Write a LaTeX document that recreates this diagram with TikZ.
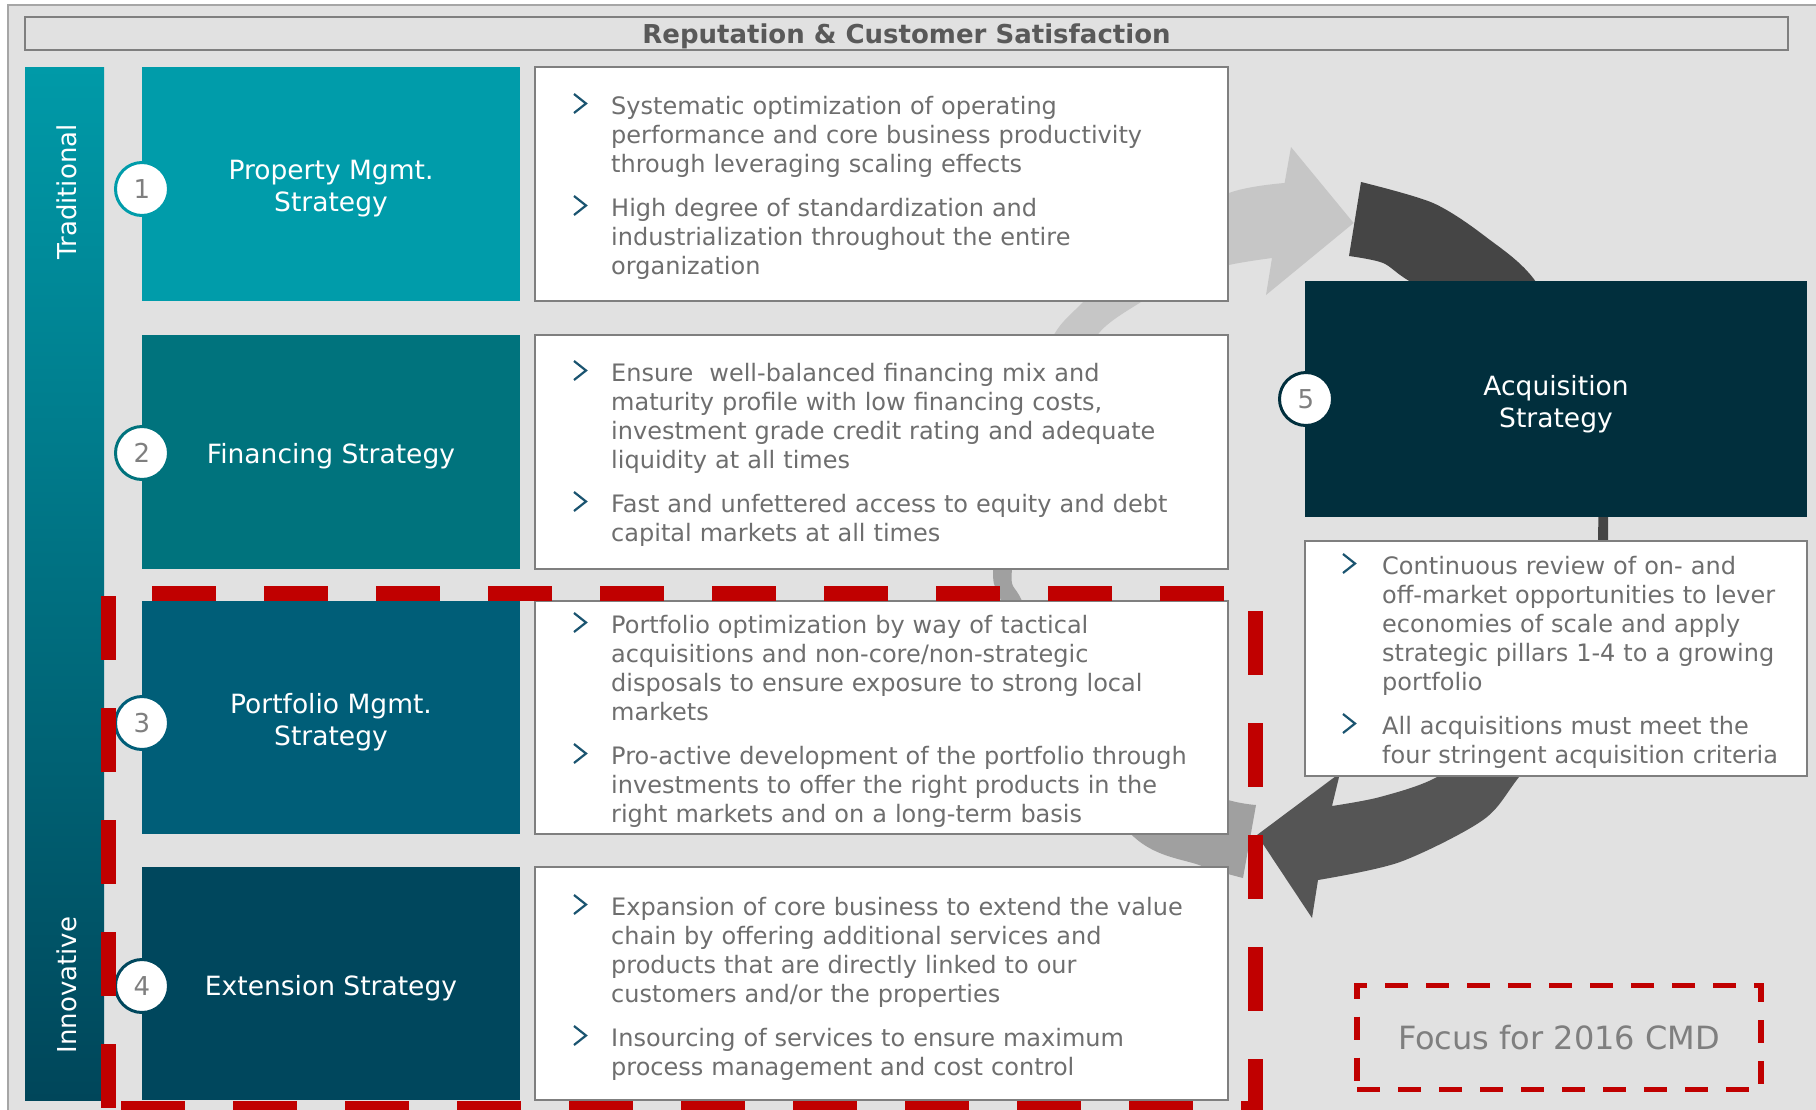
\documentclass[tikz,border=0pt]{standalone}
\usepackage{fontspec}
\setmainfont{DejaVu Sans}
\definecolor{bg}{HTML}{E1E1E1}
\definecolor{framegray}{HTML}{A6A6A6}
\definecolor{boxgray}{HTML}{7F7F7F}
\definecolor{txtgray}{HTML}{6E6E6E}
\definecolor{titlegray}{HTML}{595959}
\definecolor{numgray}{HTML}{7F7F7F}
\definecolor{chevc}{HTML}{1A5470}
\definecolor{cA}{HTML}{009CAA}
\definecolor{cB}{HTML}{00737D}
\definecolor{cC}{HTML}{005E78}
\definecolor{cD}{HTML}{00475D}
\definecolor{cE}{HTML}{012F3D}
\definecolor{barTop}{HTML}{009AA8}
\definecolor{barBot}{HTML}{00465A}
\definecolor{focusred}{HTML}{C00000}
\definecolor{lightarr}{HTML}{C6C6C6}
\definecolor{midarr}{HTML}{A0A0A0}
\definecolor{darkarr}{HTML}{454545}
\definecolor{darkarrb}{HTML}{555555}
\tikzset{
  stratbox/.style={rectangle, inner sep=0pt},
  stratlabel/.style={inner sep=0pt, text=white, align=center, font=\fontsize{26.5}{32}\selectfont},
  textbox/.style={rectangle, fill=white, draw=boxgray, line width=2.5pt, inner sep=0pt},
  bullettext/.style={anchor=base west, inner sep=0pt, text=txtgray, align=left, text width=640pt, font=\fontsize{24}{29}\selectfont},
  acqtext/.style={bullettext, text width=430pt},
  numcirc/.style={circle, fill=white, line width=3pt, minimum size=53pt, inner sep=0pt, text=numgray, font=\fontsize{26}{30}\selectfont},
  sidetext/.style={rotate=90, text=white, inner sep=0pt, font=\fontsize{26}{30}\selectfont},
  reddash/.style={draw=focusred, line width=15pt, dash pattern=on 64pt off 48pt},
  chevline/.style={draw=chevc, line width=2.2pt},
  chev/.pic={\draw[chevline] (-6,-9.5) -- (6,0) -- (-6,9.5);},
  focusbox/.style={rectangle, draw=focusred, line width=5.4pt, dash pattern=on 23pt off 18pt, minimum width=404pt, minimum height=104pt, inner sep=0pt, text=numgray, font=\fontsize{32}{38}\selectfont},
}
\begin{document}
\begin{tikzpicture}[x=1pt,y=-1pt]
\useasboundingbox (0,0) rectangle (1816,1109);
\fill[white] (0,0) rectangle (1816,1109);
\fill[bg] (8,5) rectangle (1830,1120);
\draw[framegray, line width=1.5pt] (8,1120) -- (8,5) -- (1830,5);

% title bar
\node[rectangle, fill=bg, draw=boxgray, line width=2pt, minimum width=1763pt, minimum height=33pt, inner sep=0pt] (title) at (906.5,33.5) {};
\node[inner sep=0pt, text=titlegray, font=\bfseries\fontsize{26}{30}\selectfont] (titletxt) at (906.5,36.5) {Reputation \& Customer Satisfaction};

% cycle arrows (behind the boxes)
\fill[lightarr] (1010,460) -- plot[smooth] coordinates {(1010,460) (1030,390) (1055,333) (1083,302) (1150,235) (1229,193) (1284.6,183)}
  -- (1291,147) -- (1353.6,223) -- (1266,295) -- (1272,258)
  -- plot[smooth] coordinates {(1272,258) (1229,265) (1180,280) (1141,302) (1099,333) (1070,390) (1050,460)} -- cycle;
\fill[midarr] (1000,440) -- plot[smooth] coordinates {(1000,440) (993,569) (1001,601) (1040,720) (1134,837) (1199,865) (1243,878)}
  -- (1256,805)
  -- plot[smooth] coordinates {(1256,805) (1228,800) (1150,775) (1070,700) (1022,601) (1012,569) (1035,440)} -- cycle;
\fill[darkarr] (1361,182) -- plot[smooth] coordinates {(1361,182) (1433,203) (1486,237) (1536,282) (1585,380) (1606,480) (1608,541) (1606,600)}
  -- plot[smooth] coordinates {(1596,600) (1598,541) (1596,480) (1570,400) (1500,330) (1411,282) (1383,263) (1349,256)} -- cycle;
\fill[darkarrb] (1606,590) -- plot[smooth] coordinates {(1606,590) (1585,690) (1519,777) (1483,820) (1400,862) (1318,880)}
  -- (1312,918) -- (1257,835) -- (1340,773) -- (1332,806)
  -- plot[smooth] coordinates {(1332,806) (1380,797) (1437,777) (1500,730) (1570,650) (1596,590)} -- cycle;

% left bar
\shade[top color=barTop, bottom color=barBot] (25,67) rectangle (104,1100);
\node[sidetext] (trad) at (67,192) {Traditional};
\node[sidetext] (innov) at (67,985) {Innovative};

% strategy boxes
\node[stratbox, fill=cA, minimum width=378pt, minimum height=234pt] (b1) at (331,184) {};
\node[stratbox, fill=cB, minimum width=378pt, minimum height=234pt] (b2) at (331,452) {};
\node[stratbox, fill=cC, minimum width=378pt, minimum height=233pt] (b3) at (331,717.5) {};
\node[stratbox, fill=cD, minimum width=378pt, minimum height=233pt] (b4) at (331,983.5) {};
\node[stratbox, fill=cE, minimum width=502pt, minimum height=236pt] (b5) at (1556,399) {};
\node[stratlabel] (l1) at (331,189) {Property Mgmt.\\Strategy};
\node[stratlabel] (l2) at (331,456) {Financing Strategy};
\node[stratlabel] (l3) at (331,722.5) {Portfolio Mgmt.\\Strategy};
\node[stratlabel] (l4) at (331,988) {Extension Strategy};
\node[stratlabel] (l5) at (1556,404) {Acquisition\\Strategy};

% text boxes
\node[textbox, minimum width=693pt, minimum height=234pt] (t1) at (881.5,184) {};
\node[textbox, minimum width=693pt, minimum height=234pt] (t2) at (881.5,452) {};
\node[textbox, minimum width=693pt, minimum height=233pt] (t3) at (881.5,717.5) {};
\node[textbox, minimum width=693pt, minimum height=233pt] (t4) at (881.5,983.5) {};
\node[textbox, minimum width=502pt, minimum height=235pt] (t5) at (1556,658.5) {};

% bullets box 1
\pic at (580,103.5) {chev};
\node[bullettext] (p1a) at (611,114) {Systematic optimization of operating\\performance and core business productivity\\through leveraging scaling effects};
\pic at (580,205.5) {chev};
\node[bullettext] (p1b) at (611,216) {High degree of standardization and\\industrialization throughout the entire\\organization};
% bullets box 2
\pic at (580,370.5) {chev};
\node[bullettext] (p2a) at (611,381) {Ensure~ well-balanced financing mix and\\maturity profile with low financing costs,\\investment grade credit rating and adequate\\liquidity at all times};
\pic at (580,501.5) {chev};
\node[bullettext] (p2b) at (611,512) {Fast and unfettered access to equity and debt\\capital markets at all times};
% bullets box 3
\pic at (580,622.5) {chev};
\node[bullettext] (p3a) at (611,633) {Portfolio optimization by way of tactical\\acquisitions and non-core/non-strategic\\disposals to ensure exposure to strong local\\markets};
\pic at (580,753.5) {chev};
\node[bullettext] (p3b) at (611,764) {Pro-active development of the portfolio through\\investments to offer the right products in the\\right markets and on a long-term basis};
% bullets box 4
\pic at (580,904.5) {chev};
\node[bullettext] (p4a) at (611,915) {Expansion of core business to extend the value\\chain by offering additional services and\\products that are directly linked to our\\customers and/or the properties};
\pic at (580,1035.5) {chev};
\node[bullettext] (p4b) at (611,1046) {Insourcing of services to ensure maximum\\process management and cost control};
% bullets acquisition
\pic at (1349,563.5) {chev};
\node[acqtext] (p5a) at (1382,574) {Continuous review of on- and\\off-market opportunities to lever\\economies of scale and apply\\strategic pillars 1-4 to a growing\\portfolio};
\pic at (1349,723.5) {chev};
\node[acqtext] (p5b) at (1382,734) {All acquisitions must meet the\\four stringent acquisition criteria};

% number circles
\node[numcirc, draw=cA] (n1) at (142,189) {1};
\node[numcirc, draw=cB] (n2) at (142,453) {2};
\node[numcirc, draw=cC] (n3) at (142,723) {3};
\node[numcirc, draw=cD] (n4) at (142,986) {4};
\node[numcirc, draw=cE] (n5) at (1306,399) {5};

% red dashed focus frame
\draw[reddash, dash phase=68pt] (108,593) -- (1255,593);
\draw[reddash, dash phase=109pt] (108,593) -- (108,1120);
\draw[reddash, dash phase=94pt] (1255,593) -- (1255,1120);
\draw[reddash, dash phase=99pt] (108,1108.5) -- (1255,1108.5);

% legend
\node[focusbox] (focus) at (1559,1037.5) {Focus for 2016 CMD};
\end{tikzpicture}
\end{document}
